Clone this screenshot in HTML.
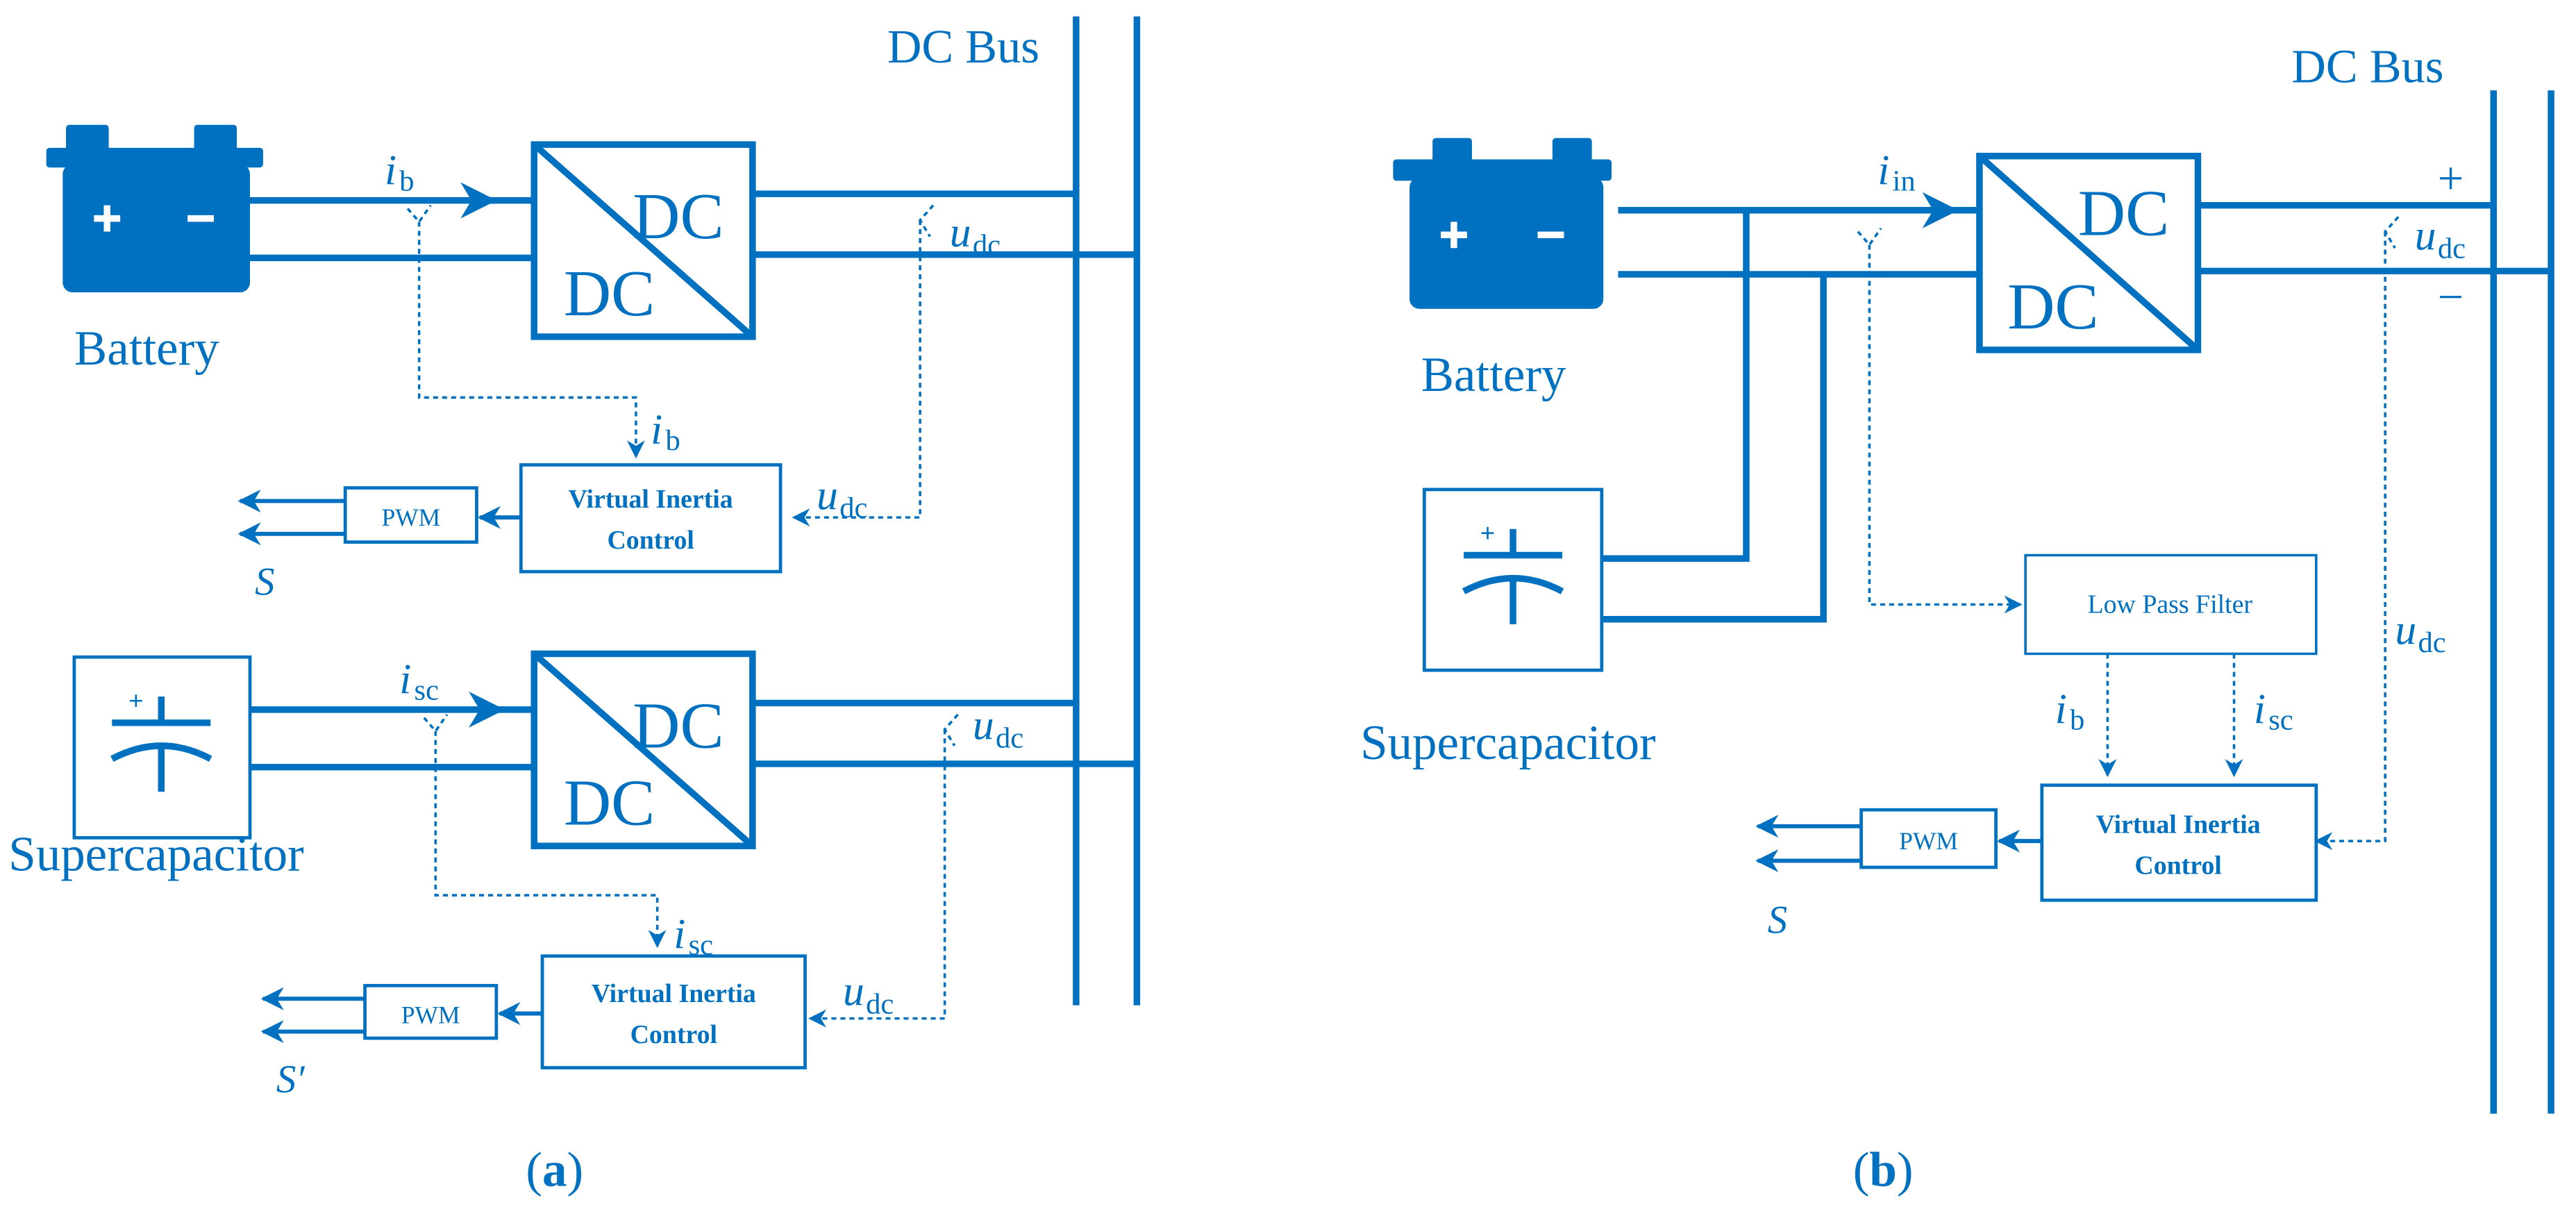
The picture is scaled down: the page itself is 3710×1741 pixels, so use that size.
<!DOCTYPE html>
<html><head><meta charset="utf-8"><style>
html,body{margin:0;padding:0;background:#fff;}
svg{display:block;}
text{font-family:"Liberation Serif",serif;fill:#0070C0;}
</style></head><body>
<svg width="3710" height="1741" viewBox="0 0 1568 736" xmlns="http://www.w3.org/2000/svg">
<defs>
<marker id="ah" viewBox="0 0 10 10" refX="9" refY="5" markerWidth="11" markerHeight="11" orient="auto" markerUnits="userSpaceOnUse">
<path d="M0,0 L10,5 L0,10 L3,5 z" fill="#0070C0"/></marker>
<marker id="ahb" viewBox="0 0 10 10" refX="9" refY="5" markerWidth="22" markerHeight="22" orient="auto" markerUnits="userSpaceOnUse">
<path d="M0,0 L10,5 L0,10 L3,5 z" fill="#0070C0"/></marker>
<marker id="ahm" viewBox="0 0 10 10" refX="9" refY="5" markerWidth="14" markerHeight="14" orient="auto" markerUnits="userSpaceOnUse">
<path d="M0,0 L10,5 L0,10 L3,5 z" fill="#0070C0"/></marker>
</defs>
<g stroke="#0070C0" fill="none">
<line x1="655" y1="10" x2="655" y2="612" stroke-width="4"/>
<line x1="692" y1="10" x2="692" y2="612" stroke-width="4"/>
<g fill="#0070C0" stroke="none">
<rect x="40" y="76" width="26" height="16" rx="2"/><rect x="118" y="76" width="26" height="16" rx="2"/>
<rect x="28" y="90" width="132" height="12" rx="2"/>
<rect x="38" y="100" width="114" height="78" rx="6"/>
</g>
<line x1="152" y1="122" x2="300" y2="122" stroke-width="4" marker-end="url(#ahb)"/>
<line x1="290" y1="122" x2="325" y2="122" stroke-width="4"/>
<line x1="152" y1="157" x2="325" y2="157" stroke-width="4"/>
<rect x="325" y="88" width="133" height="117" stroke-width="4"/>
<line x1="325" y1="88" x2="458" y2="205" stroke-width="4"/>
<line x1="458" y1="118" x2="655" y2="118" stroke-width="4"/>
<line x1="458" y1="155" x2="692" y2="155" stroke-width="4"/>
<g stroke-width="1.5" stroke-dasharray="3,2.5">
<polyline points="248,127 255,135 262,125"/>
<polyline points="255,135 255,242 387,242 387,278" marker-end="url(#ah)"/>
<polyline points="568,125 560,134 566,144"/>
<polyline points="560,134 560,315 483,315" marker-end="url(#ah)"/>
</g>
<rect x="317" y="283" width="158" height="65" stroke-width="2"/>
<rect x="210" y="297" width="80" height="33" stroke-width="2"/>
<line x1="317" y1="315" x2="292" y2="315" stroke-width="2.5" marker-end="url(#ahm)"/>
<line x1="210" y1="305" x2="146" y2="305" stroke-width="2.5" marker-end="url(#ahm)"/>
<line x1="210" y1="325" x2="146" y2="325" stroke-width="2.5" marker-end="url(#ahm)"/>
<rect x="45" y="400" width="107" height="110" stroke-width="2"/>
<line x1="98" y1="424" x2="98" y2="440" stroke-width="4"/>
<line x1="68" y1="440" x2="128" y2="440" stroke-width="4"/>
<path d="M68,462 Q98,446 128,462" stroke-width="4"/>
<line x1="98" y1="454" x2="98" y2="482" stroke-width="4"/>
<line x1="152" y1="432" x2="305" y2="432" stroke-width="4" marker-end="url(#ahb)"/>
<line x1="295" y1="432" x2="325" y2="432" stroke-width="4"/>
<line x1="152" y1="467" x2="325" y2="467" stroke-width="4"/>
<rect x="325" y="398" width="133" height="117" stroke-width="4"/>
<line x1="325" y1="398" x2="458" y2="515" stroke-width="4"/>
<line x1="458" y1="428" x2="655" y2="428" stroke-width="4"/>
<line x1="458" y1="465" x2="692" y2="465" stroke-width="4"/>
<g stroke-width="1.5" stroke-dasharray="3,2.5">
<polyline points="258,437 265,445 272,435"/>
<polyline points="265,445 265,545 400,545 400,576" marker-end="url(#ah)"/>
<polyline points="583,435 575,444 581,454"/>
<polyline points="575,444 575,620 493,620" marker-end="url(#ah)"/>
</g>
<rect x="330" y="582" width="160" height="68" stroke-width="2"/>
<rect x="222" y="600" width="80" height="32" stroke-width="2"/>
<line x1="330" y1="617" x2="304" y2="617" stroke-width="2.5" marker-end="url(#ahm)"/>
<line x1="222" y1="608" x2="160" y2="608" stroke-width="2.5" marker-end="url(#ahm)"/>
<line x1="222" y1="628" x2="160" y2="628" stroke-width="2.5" marker-end="url(#ahm)"/>

<line x1="1518" y1="55" x2="1518" y2="678" stroke-width="4"/>
<line x1="1553" y1="55" x2="1553" y2="678" stroke-width="4"/>
<g fill="#0070C0" stroke="none">
<rect x="872" y="84" width="24" height="15" rx="2"/><rect x="945" y="84" width="24" height="15" rx="2"/>
<rect x="848" y="97" width="133" height="13" rx="2"/>
<rect x="858" y="108" width="118" height="80" rx="6"/>
</g>
<line x1="985" y1="128" x2="1190" y2="128" stroke-width="4" marker-end="url(#ahb)"/>
<line x1="1180" y1="128" x2="1205" y2="128" stroke-width="4"/>
<line x1="985" y1="167" x2="1205" y2="167" stroke-width="4"/>
<polyline points="1063,128 1063,340 975,340" stroke-width="4"/>
<polyline points="1110,167 1110,377 975,377" stroke-width="4"/>
<rect x="867" y="298" width="108" height="110" stroke-width="2"/>
<line x1="921" y1="322" x2="921" y2="338" stroke-width="4"/>
<line x1="891" y1="338" x2="951" y2="338" stroke-width="4"/>
<path d="M891,360 Q921,344 951,360" stroke-width="4"/>
<line x1="921" y1="352" x2="921" y2="380" stroke-width="4"/>
<rect x="1205" y="95" width="133" height="118" stroke-width="4"/>
<line x1="1205" y1="95" x2="1338" y2="213" stroke-width="4"/>
<line x1="1338" y1="125" x2="1518" y2="125" stroke-width="4"/>
<line x1="1338" y1="165" x2="1553" y2="165" stroke-width="4"/>
<g stroke-width="1.5" stroke-dasharray="3,2.5">
<polyline points="1131,141 1138,149 1145,139"/>
<polyline points="1138,149 1138,368 1230,368" marker-end="url(#ah)"/>
<polyline points="1460,132 1452,141 1458,151"/>
<polyline points="1452,141 1452,512 1410,512" marker-end="url(#ah)"/>
<line x1="1283" y1="398" x2="1283" y2="472" marker-end="url(#ah)"/>
<line x1="1360" y1="398" x2="1360" y2="472" marker-end="url(#ah)"/>
</g>
<rect x="1233" y="338" width="177" height="60" stroke-width="1.5"/>
<rect x="1243" y="478" width="167" height="70" stroke-width="2"/>
<rect x="1133" y="493" width="82" height="35" stroke-width="2"/>
<line x1="1243" y1="512" x2="1217" y2="512" stroke-width="2.5" marker-end="url(#ahm)"/>
<line x1="1133" y1="503" x2="1070" y2="503" stroke-width="2.5" marker-end="url(#ahm)"/>
<line x1="1133" y1="524" x2="1070" y2="524" stroke-width="2.5" marker-end="url(#ahm)"/>
</g>

<g stroke="#fff" stroke-width="4">
<line x1="57" y1="133" x2="73" y2="133"/><line x1="65" y1="125" x2="65" y2="141"/>
<line x1="114" y1="133" x2="130" y2="133"/>
<line x1="877" y1="143" x2="893" y2="143"/><line x1="885" y1="135" x2="885" y2="151"/>
<line x1="936" y1="143" x2="952" y2="143"/>
</g>
<text x="78" y="432" font-size="16" font-weight="bold" font-family="Liberation Sans,sans-serif">+</text>
<text x="901" y="330" font-size="16" font-weight="bold" font-family="Liberation Sans,sans-serif">+</text>

<text x="540" y="38" font-size="29">DC Bus</text>
<text x="45" y="222" font-size="30">Battery</text>
<text x="5" y="530" font-size="30">Supercapacitor</text>
<text x="385" y="145" font-size="40">DC</text>
<text x="343" y="192" font-size="40">DC</text>
<text x="385" y="455" font-size="40">DC</text>
<text x="343" y="502" font-size="40">DC</text>
<text x="234" y="112" font-size="26" font-style="italic">i</text><text x="243" y="116" font-size="18">b</text>
<text x="396" y="270" font-size="26" font-style="italic">i</text><text x="405" y="274" font-size="18">b</text>
<text x="578" y="150" font-size="26" font-style="italic">u</text><text x="592" y="155" font-size="18">dc</text>
<text x="497" y="310" font-size="26" font-style="italic">u</text><text x="511" y="315" font-size="18">dc</text>
<text x="243" y="422" font-size="26" font-style="italic">i</text><text x="252" y="426" font-size="18">sc</text>
<text x="410" y="577" font-size="26" font-style="italic">i</text><text x="419" y="581" font-size="18">sc</text>
<text x="592" y="450" font-size="26" font-style="italic">u</text><text x="606" y="455" font-size="18">dc</text>
<text x="513" y="612" font-size="26" font-style="italic">u</text><text x="527" y="617" font-size="18">dc</text>
<text x="396" y="309" font-size="16" font-weight="bold" text-anchor="middle">Virtual Inertia</text>
<text x="396" y="334" font-size="16" font-weight="bold" text-anchor="middle">Control</text>
<text x="250" y="320" font-size="15" text-anchor="middle">PWM</text>
<text x="155" y="362" font-size="24" font-style="italic">S</text>
<text x="410" y="610" font-size="16" font-weight="bold" text-anchor="middle">Virtual Inertia</text>
<text x="410" y="635" font-size="16" font-weight="bold" text-anchor="middle">Control</text>
<text x="262" y="623" font-size="15" text-anchor="middle">PWM</text>
<text x="168" y="665" font-size="24" font-style="italic">S′</text>
<text x="320" y="722" font-size="30">(<tspan font-weight="bold">a</tspan>)</text>

<text x="1395" y="50" font-size="29">DC Bus</text>
<text x="865" y="238" font-size="30">Battery</text>
<text x="828" y="462" font-size="30">Supercapacitor</text>
<text x="1265" y="143" font-size="40">DC</text>
<text x="1222" y="200" font-size="40">DC</text>
<text x="1143" y="112" font-size="26" font-style="italic">i</text><text x="1152" y="116" font-size="18">in</text>
<text x="1484" y="118" font-size="28">+</text>
<text x="1484" y="190" font-size="28">−</text>
<text x="1470" y="152" font-size="26" font-style="italic">u</text><text x="1484" y="157" font-size="18">dc</text>
<text x="1458" y="392" font-size="26" font-style="italic">u</text><text x="1472" y="397" font-size="18">dc</text>
<text x="1321" y="373" font-size="16" text-anchor="middle">Low Pass Filter</text>
<text x="1251" y="440" font-size="26" font-style="italic">i</text><text x="1260" y="444" font-size="18">b</text>
<text x="1372" y="440" font-size="26" font-style="italic">i</text><text x="1381" y="444" font-size="18">sc</text>
<text x="1326" y="507" font-size="16" font-weight="bold" text-anchor="middle">Virtual Inertia</text>
<text x="1326" y="532" font-size="16" font-weight="bold" text-anchor="middle">Control</text>
<text x="1174" y="517" font-size="15" text-anchor="middle">PWM</text>
<text x="1076" y="568" font-size="24" font-style="italic">S</text>
<text x="1128" y="722" font-size="30">(<tspan font-weight="bold">b</tspan>)</text>
</svg>
</body></html>
